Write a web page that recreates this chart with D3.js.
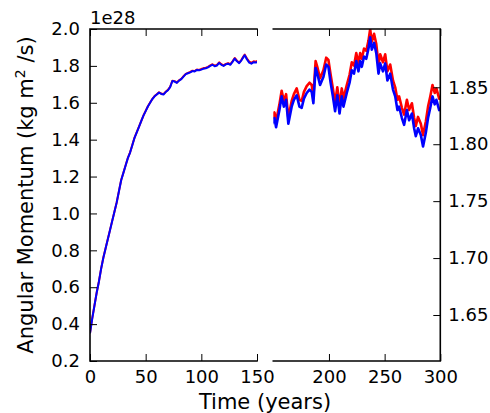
<!DOCTYPE html>
<html><head><meta charset="utf-8">
<script src="https://cdn.jsdelivr.net/npm/d3@7"></script>
<style>
html,body{margin:0;padding:0;background:#fff;}
text{font-family:"DejaVu Sans",sans-serif;fill:#000;}
</style></head>
<body><svg id="chart" width="490" height="413"></svg>
<script>
// Time in years
const years = [0,2,4,6,8,10,12,14,16,18,
 20,22,24,26,28,30,32,34,36,38,
 40,42,44,46,48,50,52,54,56,58,
 60,62,64,66,68,70,72,74,76,78,
 80,82,84,86,88,90,92,94,96,98,
 100,102,104,106,108,110,112,114,116,118,
 120,122,124,126,128,130,132,134,136,138,
 139,141,143,145,147,149,151,152.5,155.5,157.5,
 159.5,161.5,163.5,166.5,168.5,171,173.5,175.5,177.5,180,
 182.5,184.5,186,188,189.5,192,195,197.5,199.5,201.5,
 203.5,205.5,207.5,209.5,211.5,213,216,218.5,220.5,222.5,
 224.5,226.5,228,229.5,231.5,233.5,235.5,237,238.5,240.5,
 242.5,244.5,246,248.5,250.5,252.5,255,257.5,259.5,261.5,
 263,265.5,267.5,270,272,274.5,276.5,278,280,282.5,
 284.5,287,289,291,293,295,296.5,299,300];

// Angular momentum (units of 1e28 kg m^2/s)
const blueSeries = [0.350,0.430,0.500,0.570,0.630,0.700,0.760,0.810,0.860,0.910,
 0.960,1.010,1.060,1.120,1.180,1.220,1.260,1.300,1.330,1.370,
 1.410,1.440,1.470,1.500,1.530,1.555,1.580,1.600,1.620,1.635,
 1.645,1.655,1.648,1.645,1.658,1.668,1.685,1.718,1.715,1.708,
 1.720,1.728,1.742,1.755,1.760,1.765,1.772,1.770,1.778,1.776,
 1.780,1.785,1.787,1.792,1.800,1.806,1.798,1.802,1.816,1.806,
 1.800,1.808,1.812,1.806,1.822,1.840,1.825,1.815,1.830,1.850,
 1.858,1.835,1.818,1.812,1.820,1.818,1.823,1.815,1.830,1.842,
 1.833,1.839,1.818,1.833,1.839,1.843,1.833,1.832,1.840,1.845,
 1.848,1.846,1.836,1.867,1.862,1.852,1.859,1.870,1.868,1.854,
 1.842,1.829,1.843,1.827,1.842,1.833,1.845,1.854,1.865,1.862,
 1.873,1.864,1.873,1.868,1.877,1.875,1.884,1.894,1.883,1.889,
 1.880,1.862,1.871,1.864,1.871,1.856,1.862,1.848,1.842,1.830,
 1.833,1.823,1.817,1.830,1.821,1.827,1.814,1.807,1.814,1.808,
 1.798,1.810,1.823,1.832,1.842,1.835,1.839,1.830,1.832];

const redSeries = [0.351,0.431,0.501,0.571,0.631,0.701,0.761,0.811,0.861,0.911,
 0.961,1.011,1.061,1.121,1.181,1.221,1.261,1.301,1.331,1.371,
 1.411,1.441,1.471,1.501,1.531,1.556,1.581,1.601,1.621,1.636,
 1.646,1.657,1.650,1.647,1.660,1.670,1.687,1.720,1.717,1.710,
 1.722,1.730,1.744,1.757,1.762,1.767,1.774,1.772,1.780,1.778,
 1.783,1.788,1.790,1.795,1.803,1.809,1.801,1.805,1.819,1.809,
 1.803,1.811,1.815,1.809,1.825,1.843,1.828,1.818,1.833,1.853,
 1.861,1.840,1.823,1.817,1.825,1.823,1.828,1.820,1.835,1.847,
 1.838,1.844,1.823,1.838,1.844,1.849,1.839,1.838,1.846,1.851,
 1.854,1.852,1.842,1.873,1.868,1.858,1.865,1.876,1.874,1.861,
 1.849,1.836,1.850,1.834,1.849,1.840,1.852,1.861,1.872,1.869,
 1.880,1.871,1.880,1.875,1.884,1.882,1.891,1.901,1.890,1.897,
 1.888,1.870,1.879,1.872,1.879,1.864,1.870,1.856,1.850,1.839,
 1.842,1.832,1.826,1.839,1.830,1.836,1.823,1.816,1.824,1.818,
 1.808,1.820,1.833,1.842,1.852,1.845,1.849,1.840,1.842];

const leftXTicks = [0,50,100,150];
const rightXTicks = [200,250,300];
const leftYTicks = [0.2,0.4,0.6,0.8,1.0,1.2,1.4,1.6,1.8,2.0];
const rightYTicks = [1.65,1.70,1.75,1.80,1.85];

const svg = d3.select("#chart");
const yTop = 29, yBot = 361;
const xL = d3.scaleLinear().domain([0,150]).range([90,257]);
const yL = d3.scaleLinear().domain([0.2,2.0]).range([yBot,yTop]);
const xR = d3.scaleLinear().domain([150,300]).range([273.3,440.3]);
const yR = d3.scaleLinear().domain([1.6096,1.9012]).range([yBot,yTop]);

const defs = svg.append("defs");
defs.append("clipPath").attr("id","clipL").append("rect")
  .attr("x",xL.range()[0]).attr("y",yTop).attr("width",xL.range()[1]-xL.range()[0]).attr("height",yBot-yTop);
defs.append("clipPath").attr("id","clipR").append("rect")
  .attr("x",xR.range()[0]).attr("y",yTop).attr("width",xR.range()[1]-xR.range()[0]).attr("height",yBot-yTop);

function drawLines(x, y, clip, sw){
  const g = svg.append("g").attr("clip-path", `url(#${clip})`);
  const line = d3.line().x((d,i)=>x(years[i])).y(d=>y(d));
  g.append("path").datum(redSeries).attr("d",line).attr("fill","none")
    .attr("stroke","#ff0000").attr("stroke-width",sw).attr("stroke-linejoin","round");
  g.append("path").datum(blueSeries).attr("d",line).attr("fill","none")
    .attr("stroke","#0000ff").attr("stroke-width",sw).attr("stroke-linejoin","round");
}
drawLines(xL,yL,"clipL",2);
drawLines(xR,yR,"clipR",2.6);

const FS = "18px";
function styleAxis(g){
  g.select(".domain").remove();
  g.selectAll(".tick line").attr("stroke","#000").attr("stroke-width",1);
  g.selectAll(".tick text").style("font-size",FS).style("font-family","DejaVu Sans");
}
// Left panel axes
svg.append("g").attr("transform",`translate(0,${yBot})`)
  .call(d3.axisBottom(xL).tickValues(leftXTicks).tickSize(-7).tickPadding(9).tickFormat(d3.format("d")))
  .call(styleAxis);
svg.append("g").attr("transform",`translate(0,${yTop})`)
  .call(d3.axisTop(xL).tickValues(leftXTicks).tickSize(-7).tickFormat(""))
  .call(styleAxis);
svg.append("g").attr("transform",`translate(${xL.range()[0]},0)`)
  .call(d3.axisLeft(yL).tickValues(leftYTicks).tickSize(-7).tickPadding(10).tickFormat(d3.format(".1f")))
  .call(styleAxis);
// Right panel axes
svg.append("g").attr("transform",`translate(0,${yBot})`)
  .call(d3.axisBottom(xR).tickValues(rightXTicks).tickSize(-7).tickPadding(9).tickFormat(d3.format("d")))
  .call(styleAxis);
svg.append("g").attr("transform",`translate(0,${yTop})`)
  .call(d3.axisTop(xR).tickValues(rightXTicks).tickSize(-7).tickFormat(""))
  .call(styleAxis);
svg.append("g").attr("transform",`translate(${xR.range()[1]},0)`)
  .call(d3.axisRight(yR).tickValues(rightYTicks).tickSize(-7).tickPadding(8).tickFormat(d3.format(".2f")))
  .call(styleAxis);

// Spines
const sp = svg.append("g").attr("stroke","#000").attr("stroke-width",1.6).attr("fill","none").attr("stroke-linecap","square");
sp.append("path").attr("d",`M${xL.range()[1]},${yTop}H${xL.range()[0]}V${yBot}H${xL.range()[1]}`);
sp.append("path").attr("d",`M${xR.range()[0]},${yTop}H${xR.range()[1]}V${yBot}H${xR.range()[0]}`);

// Offset text
svg.append("text").attr("x",90).attr("y",24).style("font-size",FS).text("1e28");

// Axis labels
svg.append("text").attr("x",265).attr("y",409).attr("text-anchor","middle")
  .style("font-size","21px").text("Time (years)");
const yl = svg.append("text").attr("transform","translate(33,195) rotate(-90)")
  .attr("text-anchor","middle").style("font-size","21px");
yl.append("tspan").text("Angular Momentum (kg m");
yl.append("tspan").attr("dy","-8").style("font-size","14px").text("2");
yl.append("tspan").attr("dy","8").text(" /s)");
</script></body></html>
